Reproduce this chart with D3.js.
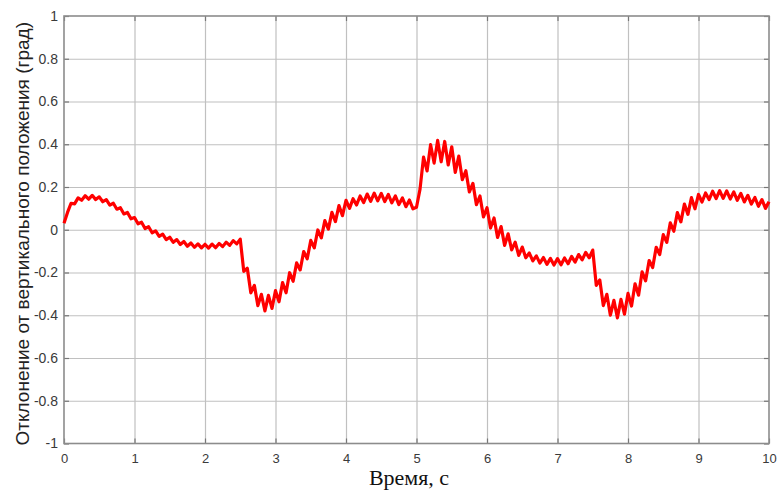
<!DOCTYPE html>
<html>
<head>
<meta charset="utf-8">
<script src="https://cdn.jsdelivr.net/npm/d3@7"></script>
<style>
  body { margin: 0; background: #fff; }
  .tick text { font-family: "Liberation Sans", Arial, sans-serif; fill: #3a3a3a; }
</style>
</head>
<body>
<svg id="chart" width="779" height="491"></svg>
<script>
// sample step of the simulation, s
var dt = 0.05;

// deviation (deg), 0 .. 2.5 s
var seg1 = [0.03, 0.081, 0.124, 0.121, 0.149, 0.138, 0.159, 0.143, 0.161, 0.141,
            0.154, 0.131, 0.141, 0.115, 0.124, 0.096, 0.103, 0.074, 0.081, 0.051,
            0.057, 0.028, 0.035, 0.006, 0.014, -0.014, -0.005, -0.031, -0.021, -0.046,
            -0.035, -0.059, -0.046, -0.069, -0.055, -0.077, -0.062, -0.082, -0.066, -0.085,
            -0.068, -0.086, -0.067, -0.084, -0.064, -0.079, -0.058, -0.073, -0.051, -0.066,
            -0.044];
// 2.55 .. 5 s
var seg2 = [-0.195, -0.18, -0.295, -0.26, -0.355, -0.302, -0.38, -0.307, -0.368, -0.285,
            -0.337, -0.247, -0.295, -0.201, -0.241, -0.155, -0.188, -0.102, -0.136, -0.05,
            -0.085, -0.001, -0.038, 0.043, 0.003, 0.081, 0.038, 0.113, 0.066, 0.138,
            0.10, 0.145, 0.116, 0.158, 0.127, 0.167, 0.133, 0.171, 0.135, 0.17,
            0.132, 0.165, 0.126, 0.158, 0.118, 0.149, 0.108, 0.139, 0.098, 0.105];
// 5.05 .. 7.5 s
var seg3 = [0.19, 0.34, 0.275, 0.398, 0.312, 0.418, 0.318, 0.413, 0.303, 0.388,
            0.268, 0.345, 0.234, 0.276, 0.177, 0.217, 0.117, 0.158, 0.06, 0.103,
            0.008, 0.055, -0.036, 0.015, -0.073, -0.019, -0.094, -0.058, -0.12, -0.081,
            -0.131, -0.109, -0.146, -0.122, -0.156, -0.13, -0.162, -0.134, -0.165, -0.135,
            -0.164, -0.132, -0.159, -0.125, -0.151, -0.116, -0.141, -0.106, -0.131, -0.095];
// 7.55 .. 10 s
var seg4 = [-0.26, -0.235, -0.355, -0.302, -0.40, -0.33, -0.412, -0.326, -0.395, -0.298,
            -0.357, -0.253, -0.306, -0.197, -0.239, -0.144, -0.177, -0.082, -0.116, -0.023,
            -0.059, 0.032, -0.007, 0.08, 0.037, 0.12, 0.072, 0.15, 0.098, 0.165,
            0.13, 0.172, 0.141, 0.18, 0.146, 0.183, 0.147, 0.182, 0.144, 0.177,
            0.138, 0.17, 0.13, 0.161, 0.12, 0.151, 0.11, 0.141, 0.10, 0.131];

var xTicks = [0, 1, 2, 3, 4, 5, 6, 7, 8, 9, 10];
var yTicks = [-1, -0.8, -0.6, -0.4, -0.2, 0, 0.2, 0.4, 0.6, 0.8, 1];
var yTickLabels = ["-1", "-0.8", "-0.6", "-0.4", "-0.2", "0", "0.2", "0.4", "0.6", "0.8", "1"];
var xTitle = "Время, с";
var yTitle = "Отклонение от вертикального положения (град)";

// plot box (window.top is read-only, so other names)
var pLeft = 64, pRight = 769, pTop = 16, pBottom = 443.5;
var w = pRight - pLeft, h = pBottom - pTop;

var svg = d3.select("#chart");

var x = d3.scaleLinear().domain([0, 10]).range([pLeft, pRight]);
var y = d3.scaleLinear().domain([-1, 1]).range([pBottom, pTop]);

var points = seg1.concat(seg2, seg3, seg4).map(function (v, i) {
    return { t: i * dt, v: v };
});

// grid
svg.append("g")
    .attr("transform", "translate(0," + pBottom + ")")
    .call(d3.axisBottom(x).tickValues(xTicks.slice(1, -1)).tickSize(-h).tickFormat(""))
    .call(function (g) {
        g.select(".domain").remove();
        g.selectAll("line").attr("stroke", "#c0c0c0").attr("stroke-width", 1.2);
    });
svg.append("g")
    .attr("transform", "translate(" + pLeft + ",0)")
    .call(d3.axisLeft(y).tickValues(yTicks.slice(1, -1)).tickSize(-w).tickFormat(""))
    .call(function (g) {
        g.select(".domain").remove();
        g.selectAll("line").attr("stroke", "#c0c0c0").attr("stroke-width", 1.2);
    });

// axes with inside ticks (labels on bottom / left)
function styleAxis(g) {
    g.select(".domain").remove();
    g.selectAll("line").attr("stroke", "#777").attr("stroke-width", 1.2);
}
svg.append("g")
    .attr("transform", "translate(0," + pBottom + ")")
    .call(d3.axisBottom(x).tickValues(xTicks).tickSize(-5).tickPadding(10).tickFormat(d3.format("d")))
    .call(styleAxis)
    .selectAll("text").style("font-size", "13px");
svg.append("g")
    .attr("transform", "translate(0," + pTop + ")")
    .call(d3.axisTop(x).tickValues(xTicks).tickSize(-5).tickFormat(""))
    .call(styleAxis);
svg.append("g")
    .attr("transform", "translate(" + pLeft + ",0)")
    .call(d3.axisLeft(y).tickValues(yTicks).tickSize(-5).tickPadding(6)
        .tickFormat(function (d, i) { return yTickLabels[i]; }))
    .call(styleAxis)
    .selectAll("text").style("font-size", "14px");
svg.append("g")
    .attr("transform", "translate(" + pRight + ",0)")
    .call(d3.axisRight(y).tickValues(yTicks).tickSize(-5).tickFormat(""))
    .call(styleAxis);

// box
svg.append("rect")
    .attr("x", pLeft).attr("y", pTop)
    .attr("width", w).attr("height", h)
    .attr("fill", "none")
    .attr("stroke", "#8c8c8c")
    .attr("stroke-width", 1.6);

// curve
var line = d3.line()
    .x(function (d) { return x(d.t); })
    .y(function (d) { return y(d.v); });

svg.append("path")
    .datum(points)
    .attr("d", line)
    .attr("fill", "none")
    .attr("stroke", "#ff0000")
    .attr("stroke-width", 3.2)
    .attr("stroke-linejoin", "round");

// titles
svg.append("text")
    .attr("x", 409).attr("y", 485)
    .attr("text-anchor", "middle")
    .style("font-family", "'Liberation Serif', 'Times New Roman', serif")
    .style("font-size", "22px")
    .attr("fill", "#111")
    .text(xTitle);

svg.append("text")
    .attr("transform", "translate(29," + ((pTop + pBottom) / 2 + 4) + ") rotate(-90)")
    .attr("text-anchor", "middle")
    .style("font-family", "'Liberation Sans', Arial, sans-serif")
    .style("font-size", "19px")
    .attr("fill", "#222")
    .text(yTitle);
</script>
</body>
</html>
